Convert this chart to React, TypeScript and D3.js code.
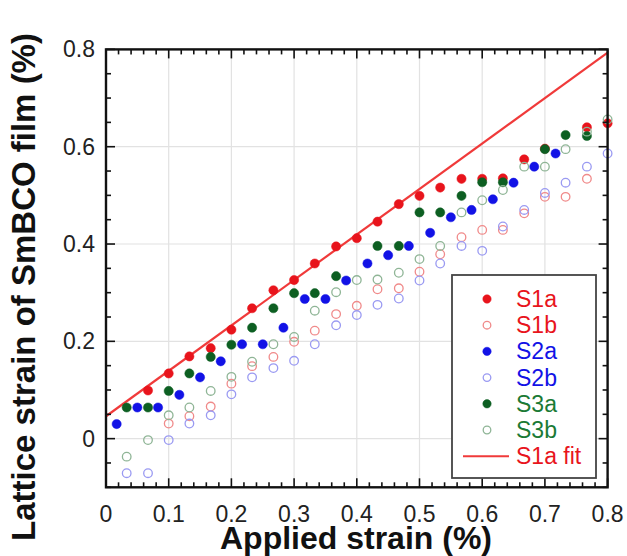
import React from "react";
import * as d3 from "d3";

const xTicks = [0, 0.1, 0.2, 0.3, 0.4, 0.5, 0.6, 0.7, 0.8];
const yTicks = [0, 0.2, 0.4, 0.6, 0.8];

const s1aX = [0.067, 0.1, 0.133, 0.167, 0.2, 0.233, 0.267, 0.3, 0.333, 0.367, 0.4, 0.433, 0.467, 0.5, 0.533, 0.567, 0.6, 0.633, 0.667, 0.7, 0.767, 0.8];
const s1aY = [0.099, 0.134, 0.169, 0.186, 0.224, 0.268, 0.305, 0.326, 0.36, 0.395, 0.412, 0.446, 0.482, 0.499, 0.516, 0.534, 0.534, 0.535, 0.574, 0.596, 0.64, 0.648];

const s1bX = [0.1, 0.133, 0.167, 0.2, 0.233, 0.267, 0.3, 0.333, 0.367, 0.4, 0.433, 0.467, 0.5, 0.533, 0.567, 0.6, 0.633, 0.667, 0.7, 0.733, 0.767];
const s1bY = [0.031, 0.046, 0.066, 0.113, 0.149, 0.168, 0.199, 0.222, 0.256, 0.273, 0.307, 0.309, 0.343, 0.379, 0.414, 0.429, 0.429, 0.463, 0.497, 0.497, 0.534];

const s2aX = [0.017, 0.05, 0.083, 0.117, 0.15, 0.183, 0.217, 0.25, 0.283, 0.317, 0.35, 0.383, 0.417, 0.45, 0.483, 0.517, 0.55, 0.583, 0.617, 0.65, 0.683, 0.717];
const s2aY = [0.03, 0.064, 0.064, 0.09, 0.126, 0.159, 0.194, 0.194, 0.228, 0.287, 0.287, 0.325, 0.36, 0.377, 0.396, 0.423, 0.455, 0.47, 0.492, 0.526, 0.559, 0.586];

const s2bX = [0.033, 0.067, 0.1, 0.133, 0.167, 0.2, 0.233, 0.267, 0.3, 0.333, 0.367, 0.4, 0.433, 0.467, 0.5, 0.533, 0.567, 0.6, 0.633, 0.667, 0.7, 0.733, 0.767, 0.8];
const s2bY = [-0.071, -0.071, -0.003, 0.031, 0.048, 0.091, 0.126, 0.145, 0.16, 0.194, 0.233, 0.254, 0.275, 0.288, 0.325, 0.36, 0.396, 0.386, 0.436, 0.47, 0.505, 0.526, 0.559, 0.586];

const s3aX = [0.033, 0.067, 0.1, 0.133, 0.167, 0.2, 0.233, 0.267, 0.3, 0.333, 0.367, 0.433, 0.467, 0.5, 0.533, 0.567, 0.6, 0.633, 0.7, 0.733, 0.767];
const s3aY = [0.064, 0.064, 0.098, 0.134, 0.168, 0.193, 0.228, 0.268, 0.299, 0.299, 0.334, 0.396, 0.396, 0.465, 0.465, 0.499, 0.527, 0.527, 0.595, 0.624, 0.622];

const s3bX = [0.033, 0.067, 0.1, 0.133, 0.167, 0.2, 0.233, 0.267, 0.3, 0.333, 0.367, 0.4, 0.433, 0.467, 0.5, 0.533, 0.567, 0.6, 0.633, 0.667, 0.7, 0.733, 0.767, 0.8];
const s3bY = [-0.037, -0.003, 0.048, 0.064, 0.098, 0.127, 0.158, 0.194, 0.209, 0.263, 0.301, 0.326, 0.327, 0.341, 0.369, 0.396, 0.465, 0.49, 0.511, 0.559, 0.559, 0.595, 0.631, 0.656];

const fitIntercept = 0.046;
const fitSlope = 0.934;

const seriesNames = ["S1a", "S1b", "S2a", "S2b", "S3a", "S3b"];

const RED = "#e8141c";
const RED_L = "#f08a8a";
const BLUE = "#1212e6";
const BLUE_L = "#9a9af2";
const GREEN = "#0d5f22";
const GREEN_L = "#8fb596";
const FIT = "#f03a3a";

const FONT = "'Liberation Sans', Arial, Helvetica, sans-serif";

export default function App() {
  const W = 627, H = 556;
  const x = d3.scaleLinear().domain([0, 0.8]).range([106, 607.6]);
  const y = d3.scaleLinear().domain([-0.1, 0.8]).range([487.3, 49.4]);
  const [x0, x1] = x.range();
  const [y0, y1] = y.range();

  const series = [
    { name: "S1a", xs: s1aX, ys: s1aY, filled: true, color: RED, text: RED },
    { name: "S1b", xs: s1bX, ys: s1bY, filled: false, color: RED_L, text: RED },
    { name: "S2a", xs: s2aX, ys: s2aY, filled: true, color: BLUE, text: BLUE },
    { name: "S2b", xs: s2bX, ys: s2bY, filled: false, color: BLUE_L, text: BLUE },
    { name: "S3a", xs: s3aX, ys: s3aY, filled: true, color: GREEN, text: "#1b7a35" },
    { name: "S3b", xs: s3bX, ys: s3bY, filled: false, color: GREEN_L, text: "#1b7a35" },
  ];

  const xMinor = d3.range(0, 0.8001, 0.02);
  const yMinor = d3.range(-0.1, 0.8001, 0.05);
  const isMajorX = (v: number) => Math.abs(v * 10 - Math.round(v * 10)) < 1e-6;
  const isMajorY = (v: number) => Math.abs(v * 5 - Math.round(v * 5)) < 1e-6;

  const fitLine = d3.line<number>().x((d) => x(d)).y((d) => y(fitIntercept + fitSlope * d));

  const legX = 452, legY = 275, legW = 144, legH = 203;
  const rowH = 26.2;

  return (
    <svg width={W} height={H} style={{ position: "absolute", left: 0, top: 0, background: "#fff" }} fontFamily={FONT}>
      <rect x={0} y={0} width={W} height={H} fill="#fff" />
      {xTicks.filter((t) => t > 0 && t < 0.8).map((t) => (
        <line key={"gx" + t} x1={x(t)} x2={x(t)} y1={y0} y2={y1} stroke="#e2e2e2" strokeWidth={1.2} />
      ))}
      {yTicks.filter((t) => t < 0.8).map((t) => (
        <line key={"gy" + t} x1={x0} x2={x1} y1={y(t)} y2={y(t)} stroke="#e2e2e2" strokeWidth={1.2} />
      ))}
      <path d={fitLine([0, 0.8]) || ""} stroke={FIT} strokeWidth={2.2} fill="none" />
      {series.map((s) => (
        <g key={s.name}>
          {s.xs.map((xv, i) => (
            <circle
              key={i}
              cx={x(xv)}
              cy={y(s.ys[i])}
              r={s.filled ? 4.6 : 4.3}
              fill={s.filled ? s.color : "none"}
              stroke={s.color}
              strokeWidth={s.filled ? 0.5 : 1.3}
            />
          ))}
        </g>
      ))}
      {xMinor.map((t, i) => {
        const len = isMajorX(t) ? 9 : 5;
        return (
          <g key={"tx" + i}>
            <line x1={x(t)} x2={x(t)} y1={y0} y2={y0 - len} stroke="#111" strokeWidth={1.6} />
            <line x1={x(t)} x2={x(t)} y1={y1} y2={y1 + len} stroke="#111" strokeWidth={1.6} />
          </g>
        );
      })}
      {yMinor.map((t, i) => {
        const len = isMajorY(t) ? 9 : 5;
        return (
          <g key={"ty" + i}>
            <line x1={x0} x2={x0 + len} y1={y(t)} y2={y(t)} stroke="#111" strokeWidth={1.6} />
            <line x1={x1} x2={x1 - len} y1={y(t)} y2={y(t)} stroke="#111" strokeWidth={1.6} />
          </g>
        );
      })}
      <rect x={x0} y={y1} width={x1 - x0} height={y0 - y1} fill="none" stroke="#111" strokeWidth={2.4} />
      {xTicks.map((t) => (
        <text key={"lx" + t} x={x(t)} y={522} textAnchor="middle" fontSize={23} fill="#222">
          {t === 0 ? "0" : t.toFixed(1)}
        </text>
      ))}
      {yTicks.map((t) => (
        <text key={"ly" + t} x={95} y={y(t) + 8} textAnchor="end" fontSize={23} fill="#222">
          {t === 0 ? "0" : t.toFixed(1)}
        </text>
      ))}
      <text x={356} y={549} textAnchor="middle" fontSize={32} fontWeight="bold" fill="#111">
        Applied strain (%)
      </text>
      <text transform={`translate(35,${287}) rotate(-90)`} textAnchor="middle" fontSize={33} fontWeight="bold" fill="#111">
        Lattice strain of SmBCO film (%)
      </text>
      <rect x={legX} y={legY} width={legW} height={legH} fill="#fff" stroke="#444" strokeWidth={1.8} />
      {series.map((s, i) => {
        const cy = legY + 24 + i * rowH;
        return (
          <g key={"leg" + s.name}>
            <circle cx={487} cy={cy} r={s.filled ? 4.2 : 3.8} fill={s.filled ? s.color : "none"} stroke={s.color} strokeWidth={s.filled ? 0.5 : 1.3} />
            <text x={516} y={cy + 8} fontSize={23} fill={s.text}>{seriesNames[i]}</text>
          </g>
        );
      })}
      <line x1={463} x2={509} y1={legY + 24 + 6 * rowH} y2={legY + 24 + 6 * rowH} stroke={FIT} strokeWidth={2} />
      <text x={516} y={legY + 24 + 6 * rowH + 8} fontSize={23} fill={RED}>S1a fit</text>
    </svg>
  );
}
